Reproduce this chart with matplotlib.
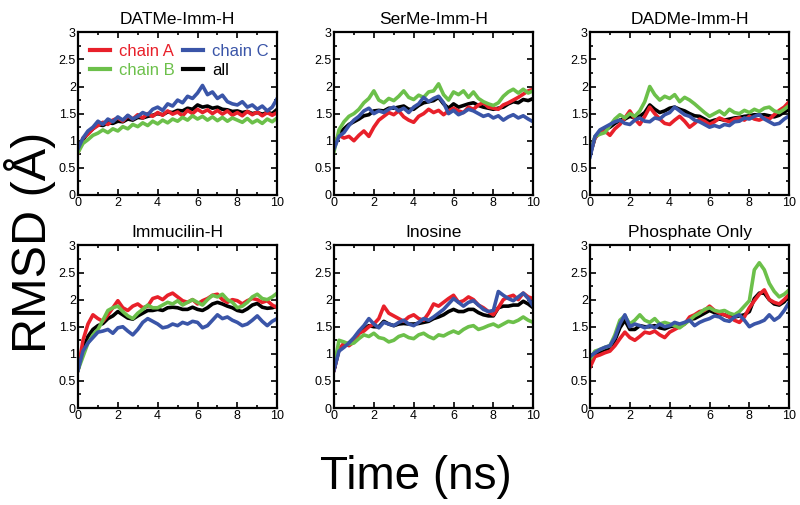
import numpy as np
import matplotlib
matplotlib.use("Agg")
import matplotlib.pyplot as plt
from matplotlib.ticker import MultipleLocator

plt.rcParams['font.family'] = ['Liberation Sans', 'DejaVu Sans']

# time axis, 0 to 10 ns every 0.25 ns
time_ns = np.arange(41) * 0.25

titles = ["DATMe-Imm-H", "SerMe-Imm-H", "DADMe-Imm-H",
          "Immucilin-H", "Inosine", "Phosphate Only"]

# RMSD (A), one list per chain per panel
datme_a = [0.78, 1.05, 1.12, 1.22, 1.28, 1.34, 1.30, 1.38, 1.42, 1.36, 1.46, 1.40, 1.48, 1.42,
           1.50, 1.45, 1.52, 1.47, 1.55, 1.49, 1.53, 1.46, 1.56, 1.50, 1.58, 1.52, 1.57, 1.50,
           1.56, 1.49, 1.55, 1.47, 1.52, 1.46, 1.54, 1.48, 1.53, 1.46, 1.52, 1.47, 1.52]
datme_b = [0.78, 0.95, 1.02, 1.10, 1.14, 1.20, 1.15, 1.22, 1.18, 1.26, 1.22, 1.30, 1.26, 1.33,
           1.28, 1.36, 1.31, 1.38, 1.33, 1.40, 1.36, 1.43, 1.38, 1.46, 1.40, 1.45, 1.38, 1.44,
           1.37, 1.43, 1.36, 1.42, 1.38, 1.34, 1.41, 1.33, 1.38, 1.32, 1.40, 1.35, 1.42]
datme_c = [0.85, 1.05, 1.18, 1.25, 1.36, 1.30, 1.40, 1.35, 1.44, 1.38, 1.47, 1.40, 1.45, 1.52,
           1.48, 1.58, 1.62, 1.56, 1.68, 1.64, 1.75, 1.70, 1.82, 1.78, 1.88, 2.02, 1.85, 1.90,
           1.78, 1.84, 1.72, 1.68, 1.66, 1.72, 1.62, 1.66, 1.58, 1.64, 1.55, 1.62, 1.78]
datme_all = [0.80, 1.02, 1.14, 1.22, 1.30, 1.28, 1.33, 1.32, 1.36, 1.35, 1.40, 1.38, 1.43, 1.42,
             1.45, 1.47, 1.50, 1.48, 1.53, 1.52, 1.56, 1.55, 1.60, 1.58, 1.66, 1.62, 1.64, 1.60,
             1.62, 1.58, 1.57, 1.54, 1.55, 1.52, 1.54, 1.50, 1.52, 1.49, 1.52, 1.50, 1.58]

serme_a = [0.95, 1.10, 1.05, 1.08, 1.00, 1.10, 1.18, 1.08, 1.25, 1.38, 1.45, 1.52, 1.48, 1.55,
           1.44, 1.38, 1.34, 1.45, 1.50, 1.58, 1.52, 1.56, 1.48, 1.55, 1.60, 1.55, 1.52, 1.62,
           1.58, 1.66, 1.70, 1.62, 1.60, 1.58, 1.66, 1.70, 1.75, 1.80, 1.86, 1.92, 1.95]
serme_b = [0.80, 1.20, 1.35, 1.45, 1.50, 1.58, 1.70, 1.78, 1.92, 1.75, 1.70, 1.78, 1.74, 1.82,
           1.92, 1.80, 1.76, 1.84, 1.80, 1.90, 1.92, 2.05, 1.85, 1.75, 1.90, 1.85, 1.92, 1.80,
           1.90, 1.78, 1.72, 1.68, 1.65, 1.70, 1.82, 1.90, 1.95, 1.88, 1.95, 1.88, 1.92]
serme_c = [0.85, 1.08, 1.15, 1.28, 1.38, 1.45, 1.55, 1.60, 1.50, 1.55, 1.52, 1.58, 1.62, 1.55,
           1.60, 1.52, 1.62, 1.68, 1.80, 1.72, 1.78, 1.82, 1.70, 1.50, 1.56, 1.48, 1.52, 1.58,
           1.55, 1.50, 1.45, 1.48, 1.42, 1.46, 1.38, 1.44, 1.48, 1.42, 1.46, 1.40, 1.35]
serme_all = [0.88, 1.12, 1.22, 1.30, 1.35, 1.40, 1.46, 1.48, 1.55, 1.56, 1.55, 1.60, 1.60, 1.62,
             1.64, 1.58, 1.58, 1.65, 1.70, 1.72, 1.74, 1.80, 1.68, 1.60, 1.68, 1.62, 1.65, 1.68,
             1.70, 1.65, 1.62, 1.60, 1.58, 1.60, 1.62, 1.68, 1.72, 1.70, 1.76, 1.74, 1.78]

dadme_a = [0.75, 1.05, 1.15, 1.18, 1.10, 1.22, 1.30, 1.42, 1.55, 1.40, 1.30, 1.45, 1.62, 1.50,
           1.40, 1.32, 1.30, 1.38, 1.45, 1.36, 1.25, 1.32, 1.40, 1.36, 1.30, 1.35, 1.42, 1.38,
           1.35, 1.40, 1.42, 1.38, 1.45, 1.40, 1.38, 1.42, 1.40, 1.48, 1.56, 1.62, 1.72]
dadme_b = [0.75, 1.08, 1.12, 1.15, 1.28, 1.40, 1.48, 1.42, 1.50, 1.45, 1.55, 1.72, 2.00, 1.85,
           1.75, 1.82, 1.78, 1.85, 1.72, 1.80, 1.75, 1.68, 1.60, 1.52, 1.45, 1.50, 1.55, 1.48,
           1.58, 1.52, 1.50, 1.56, 1.52, 1.58, 1.54, 1.60, 1.62, 1.55, 1.52, 1.58, 1.65]
dadme_c = [0.70, 1.08, 1.20, 1.25, 1.30, 1.35, 1.38, 1.32, 1.30, 1.38, 1.42, 1.36, 1.35, 1.42,
           1.40, 1.48, 1.52, 1.62, 1.55, 1.48, 1.45, 1.38, 1.35, 1.30, 1.25, 1.28, 1.25, 1.30,
           1.28, 1.35, 1.36, 1.42, 1.40, 1.45, 1.48, 1.40, 1.35, 1.30, 1.32, 1.40, 1.46]
dadme_all = [0.74, 1.06, 1.15, 1.20, 1.25, 1.32, 1.38, 1.40, 1.45, 1.42, 1.45, 1.52, 1.66, 1.58,
             1.52, 1.55, 1.60, 1.62, 1.58, 1.55, 1.50, 1.46, 1.45, 1.40, 1.35, 1.38, 1.40, 1.38,
             1.40, 1.42, 1.43, 1.45, 1.46, 1.48, 1.47, 1.48, 1.46, 1.44, 1.47, 1.53, 1.58]

immh_a = [0.70, 1.25, 1.55, 1.72, 1.65, 1.60, 1.72, 1.85, 1.98, 1.85, 1.80, 1.88, 1.92, 1.85,
          1.88, 2.02, 2.05, 2.00, 2.08, 2.12, 2.05, 1.98, 1.95, 2.00, 1.92, 1.98, 2.02, 2.08,
          2.10, 2.00, 1.95, 2.00, 1.98, 1.92, 1.98, 2.02, 2.00, 1.95, 1.98, 1.90, 1.85]
immh_b = [0.70, 0.95, 1.20, 1.35, 1.45, 1.62, 1.80, 1.85, 1.88, 1.78, 1.70, 1.65, 1.75, 1.82,
          1.90, 1.85, 1.85, 1.90, 1.95, 1.92, 1.98, 1.90, 1.95, 2.00, 1.95, 1.90, 2.00, 2.08,
          2.05, 2.10, 2.00, 1.95, 1.85, 1.88, 1.95, 2.05, 2.10, 2.02, 2.00, 2.05, 2.12]
immh_c = [0.70, 1.05, 1.20, 1.30, 1.40, 1.42, 1.45, 1.38, 1.48, 1.50, 1.42, 1.35, 1.45, 1.58,
          1.65, 1.60, 1.55, 1.48, 1.50, 1.55, 1.52, 1.58, 1.55, 1.60, 1.58, 1.48, 1.52, 1.62,
          1.72, 1.65, 1.68, 1.62, 1.58, 1.52, 1.55, 1.62, 1.70, 1.60, 1.52, 1.60, 1.65]
immh_all = [0.70, 1.08, 1.32, 1.45, 1.52, 1.56, 1.65, 1.70, 1.78, 1.72, 1.66, 1.64, 1.70, 1.75,
            1.80, 1.80, 1.82, 1.80, 1.85, 1.86, 1.85, 1.82, 1.82, 1.86, 1.82, 1.80, 1.85, 1.92,
            1.95, 1.92, 1.88, 1.85, 1.80, 1.78, 1.83, 1.90, 1.93, 1.86, 1.84, 1.85, 1.88]

ino_a = [0.70, 1.08, 1.20, 1.15, 1.22, 1.38, 1.42, 1.50, 1.55, 1.65, 1.88, 1.75, 1.70, 1.65,
         1.60, 1.68, 1.72, 1.65, 1.62, 1.75, 1.92, 1.88, 1.95, 2.02, 2.08, 1.95, 1.98, 2.05,
         2.00, 1.90, 1.85, 1.78, 1.72, 1.85, 2.00, 2.05, 2.08, 2.00, 2.12, 2.05, 2.02]
ino_b = [0.75, 1.25, 1.22, 1.18, 1.20, 1.28, 1.35, 1.32, 1.38, 1.30, 1.28, 1.22, 1.25, 1.32,
         1.35, 1.30, 1.28, 1.35, 1.38, 1.32, 1.28, 1.35, 1.33, 1.38, 1.42, 1.38, 1.45, 1.50,
         1.52, 1.45, 1.48, 1.52, 1.55, 1.50, 1.55, 1.60, 1.58, 1.62, 1.68, 1.62, 1.58]
ino_c = [0.70, 1.05, 1.12, 1.20, 1.30, 1.42, 1.52, 1.65, 1.55, 1.48, 1.58, 1.55, 1.52, 1.58,
         1.62, 1.55, 1.52, 1.58, 1.65, 1.62, 1.68, 1.75, 1.82, 1.92, 2.02, 1.95, 1.88, 1.95,
         1.98, 1.90, 1.82, 1.78, 1.80, 2.15, 2.08, 2.02, 1.98, 2.05, 2.12, 2.02, 1.88]
ino_all = [0.70, 1.08, 1.16, 1.20, 1.28, 1.38, 1.45, 1.52, 1.50, 1.50, 1.60, 1.55, 1.52, 1.55,
           1.56, 1.55, 1.55, 1.56, 1.58, 1.60, 1.65, 1.68, 1.72, 1.78, 1.82, 1.78, 1.78, 1.82,
           1.82, 1.76, 1.72, 1.70, 1.70, 1.85, 1.88, 1.88, 1.90, 1.90, 1.97, 1.92, 1.85]

phos_a = [0.75, 0.95, 0.98, 1.02, 1.05, 1.15, 1.28, 1.40, 1.30, 1.25, 1.32, 1.40, 1.38, 1.42,
          1.35, 1.30, 1.40, 1.45, 1.50, 1.55, 1.68, 1.72, 1.78, 1.80, 1.88, 1.80, 1.75, 1.72,
          1.68, 1.62, 1.58, 1.68, 1.85, 1.98, 2.10, 2.18, 2.00, 1.95, 1.92, 2.00, 2.10]
phos_b = [0.90, 1.05, 1.08, 1.12, 1.15, 1.35, 1.62, 1.70, 1.55, 1.62, 1.72, 1.62, 1.58, 1.65,
          1.55, 1.58, 1.55, 1.52, 1.48, 1.55, 1.62, 1.70, 1.75, 1.82, 1.85, 1.80, 1.78, 1.80,
          1.75, 1.72, 1.78, 1.88, 1.98, 2.55, 2.68, 2.55, 2.30, 2.15, 2.05, 2.10, 2.18]
phos_c = [0.95, 1.02, 1.08, 1.12, 1.15, 1.30, 1.55, 1.72, 1.50, 1.55, 1.52, 1.48, 1.52, 1.48,
          1.55, 1.50, 1.52, 1.58, 1.55, 1.58, 1.62, 1.52, 1.58, 1.62, 1.65, 1.70, 1.68, 1.62,
          1.60, 1.68, 1.72, 1.62, 1.50, 1.55, 1.58, 1.62, 1.72, 1.62, 1.68, 1.80, 1.95]
phos_all = [0.85, 1.00, 1.04, 1.08, 1.10, 1.25, 1.48, 1.62, 1.45, 1.45, 1.52, 1.50, 1.50, 1.52,
            1.48, 1.46, 1.50, 1.52, 1.52, 1.56, 1.64, 1.65, 1.70, 1.75, 1.80, 1.76, 1.74, 1.72,
            1.68, 1.68, 1.70, 1.72, 1.78, 2.02, 2.12, 2.12, 2.00, 1.92, 1.90, 1.96, 2.08]

panels = [
    (datme_a, datme_b, datme_c, datme_all),
    (serme_a, serme_b, serme_c, serme_all),
    (dadme_a, dadme_b, dadme_c, dadme_all),
    (immh_a, immh_b, immh_c, immh_all),
    (ino_a, ino_b, ino_c, ino_all),
    (phos_a, phos_b, phos_c, phos_all),
]

red = '#e8202a'
green = '#6cc04a'
blue = '#3a55a8'

fig = plt.figure(figsize=(8, 5.05), dpi=100)

lefts = [0.0975, 0.4175, 0.7375]
bottoms = [0.614, 0.192]
w, h = 0.249, 0.322
lw = 2.6

for k, (a, b, c, tot) in enumerate(panels):
    row, col = divmod(k, 3)
    ax = fig.add_axes([lefts[col], bottoms[row], w, h])
    lall, = ax.plot(time_ns, tot, color='black', lw=lw, label='all')
    la, = ax.plot(time_ns, a, color=red, lw=lw, label='chain A')
    lb, = ax.plot(time_ns, b, color=green, lw=lw, label='chain B')
    lc, = ax.plot(time_ns, c, color=blue, lw=lw, label='chain C')

    ax.set_xlim(0, 10)
    ax.set_ylim(0, 3)
    ax.xaxis.set_major_locator(MultipleLocator(2))
    ax.xaxis.set_minor_locator(MultipleLocator(1))
    ax.yaxis.set_minor_locator(MultipleLocator(0.25))
    ax.set_yticks([0, 0.5, 1, 1.5, 2, 2.5, 3])
    ax.set_yticklabels(['0', '0.5', '1', '1.5', '2', '2.5', '3'])
    ax.tick_params(which='both', direction='in', top=True, right=True,
                   labelsize=9, width=1.2, pad=1.5)
    ax.tick_params(which='major', length=4)
    ax.tick_params(which='minor', length=2)
    for s in ax.spines.values():
        s.set_linewidth(1.6)
    ax.set_title(titles[k], fontsize=12.5, pad=6)

    if k == 0:
        leg = ax.legend([la, lb, lc, lall], ['chain A', 'chain B', 'chain C', 'all'],
                        ncol=2, loc='upper left', frameon=False, fontsize=12,
                        handlelength=1.2, handletextpad=0.55, columnspacing=0.5,
                        labelspacing=0.25, borderaxespad=0.3)
        for txt, col_ in zip(leg.get_texts(), [red, green, blue, 'black']):
            txt.set_color(col_)
        for ln in leg.get_lines():
            ln.set_linewidth(3)

fig.text(0.038, 0.52, 'RMSD (Å)', rotation=90, ha='center', va='center', fontsize=35)
fig.text(0.52, 0.055, 'Time (ns)', ha='center', va='center', fontsize=33)

fig.savefig('out.png', dpi=100)
